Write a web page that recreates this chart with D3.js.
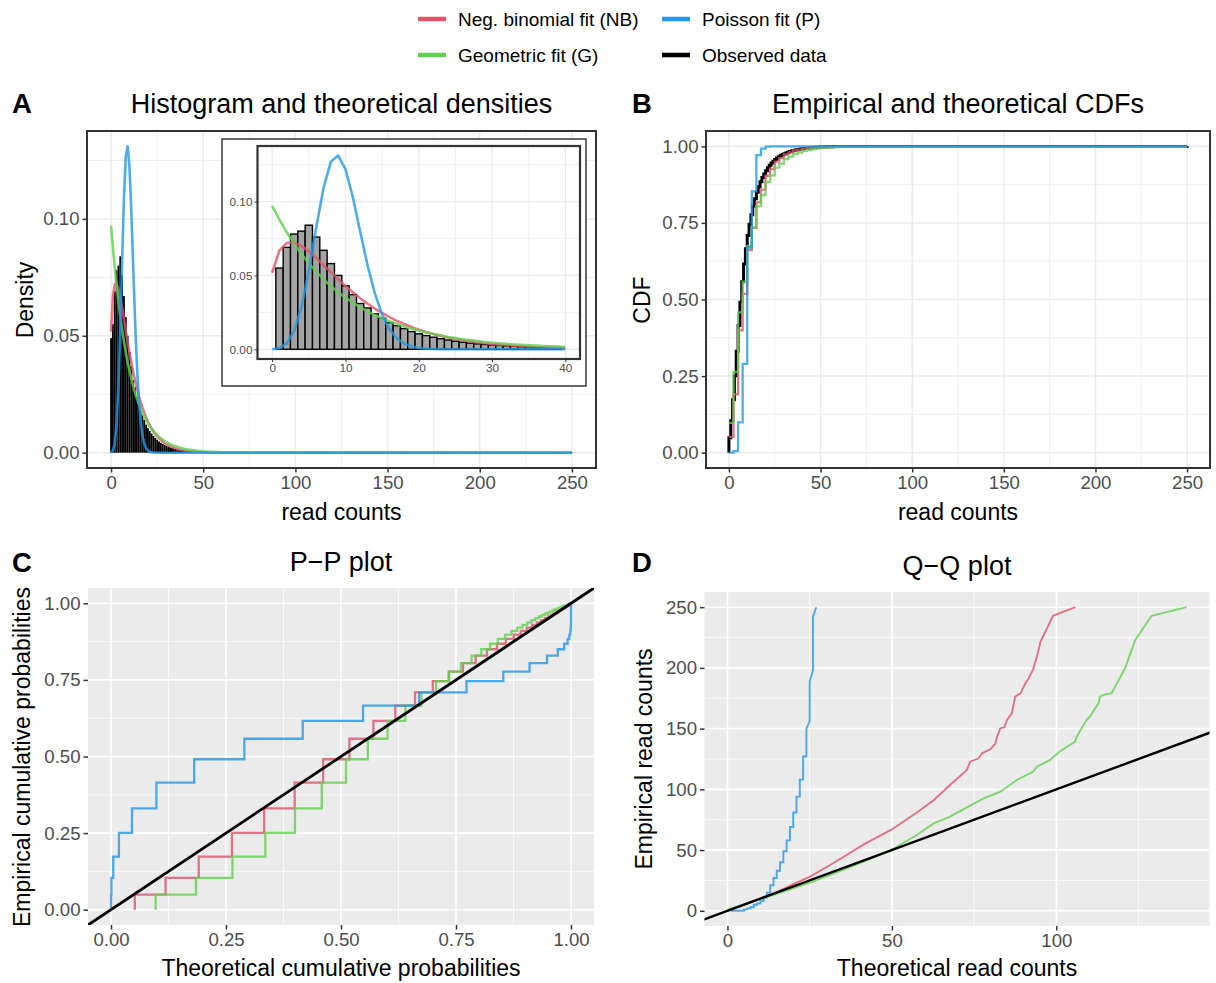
<!DOCTYPE html>
<html>
<head>
<meta charset="utf-8">
<script src="https://cdn.jsdelivr.net/npm/d3@7"></script>
<style>
  body { margin: 0; background: #ffffff; }
  svg { display: block; }
</style>
</head>
<body>
<script>
// ---------------------------------------------------------------
// Data: read counts (support), observed relative frequencies and
// the three fitted probability mass functions.
// ---------------------------------------------------------------
const readCounts = [0,1,2,3,4,5,6,7,8,9,10,11,12,13,14,15,16,17,18,19,20,21,22,23,24,25,26,27,28,29,30,31,32,33,34,35,36,37,38,39,40,41,42,43,44,45,46,47,48,49,50,51,52,53,54,55,56,57,58,59,60,250];

const obsDensity = [
  0.049,0.055,0.069,0.078,0.080,0.084,0.076,0.067,0.058,0.050,
  0.043,0.037,0.031,0.028,0.024,0.021,0.018,0.016,0.014,0.012,
  0.0105,0.0093,0.0082,0.0072,0.0063,0.0055,0.0048,0.0042,0.0037,0.0033,
  0.0029,0.0026,0.0023,0.0020,0.0018,0.0016,0.0014,0.0012,0.0011,0.0010,
  0.0009,0.0008,0.0007,0.0007,0.0006,0.0006,0.0005,0.0005,0.0004,0.0004,
  0.0004,0.0003,0.0003,0.0003,0.0003,0.0002,0.0002,0.0002,0.0002,0.0002,
  0.0002,0.0002];

const nbDensity = [
  0.0518,0.0669,0.0720,0.0723,0.0700,0.0663,0.0619,0.0571,0.0522,0.0475,
  0.0429,0.0386,0.0346,0.0310,0.0276,0.0246,0.0218,0.0193,0.0171,0.0151,
  0.0133,0.0117,0.0103,0.0091,0.0080,0.0070,0.0062,0.0054,0.0047,0.0041,
  0.0036,0.0032,0.0028,0.0024,0.0021,0.0019,0.0016,0.0014,0.0012,0.0011,
  0.0009,0.0008,0.0007,0.0006,0.0005,0.0005,0.0004,0.0004,0.0003,0.0003,
  0.0002,0.0002,0.0002,0.0002,0.0001,0.0001,0.0001,0.0001,0.0001,0.0001,
  0.0001,0];

const geomDensity = [
  0.0971,0.0877,0.0792,0.0715,0.0645,0.0583,0.0526,0.0475,0.0429,0.0387,
  0.0350,0.0316,0.0285,0.0257,0.0232,0.0210,0.0190,0.0171,0.0155,0.0140,
  0.0126,0.0114,0.0103,0.0093,0.0084,0.0076,0.0068,0.0062,0.0056,0.0050,
  0.0045,0.0041,0.0037,0.0033,0.0030,0.0027,0.0025,0.0022,0.0020,0.0018,
  0.0016,0.0015,0.0013,0.0012,0.0011,0.0010,0.0009,0.0008,0.0007,0.0007,
  0.0006,0.0005,0.0005,0.0004,0.0004,0.0004,0.0003,0.0003,0.0003,0.0002,
  0.0002,0];

const poisDensity = [
  0.0001,0.0008,0.0040,0.0123,0.0285,0.0530,0.0821,0.1091,0.1269,0.1311,
  0.1219,0.1031,0.0799,0.0571,0.0380,0.0235,0.0137,0.0075,0.0039,0.0019,
  0.0009,0.0004,0.0002,0.0001,0,0,0,0,0,0,
  0,0,0,0,0,0,0,0,0,0,
  0,0,0,0,0,0,0,0,0,0,
  0,0,0,0,0,0,0,0,0,0,
  0,0];

// Q-Q plot: [theoretical quantile, empirical read count]
const qqNB = [[0,0],[5,5],[10,10],[15,15.5],[20,22],[25,28],[32,39],[42,55.5],[50,67],
  [57.6,81],[62.7,91],[67.7,103.6],[72.8,116],[73.8,122.8],[76.4,125.6],[77.4,129.7],
  [79.9,133],[81.4,137.4],[82,143.4],[83,150.3],[84.2,151.1],[85,157.1],[86.5,162.7],
  [87.5,176.4],[89.1,179.1],[90.6,187.4],[91.6,191.5],[92.9,198.4],[94.1,209.3],
  [95.2,221.7],[97.2,232.7],[99,242.9],[105.8,250]];
const qqGeom = [[0,1],[8,8],[15,14],[25,23],[35,33.5],[45,44.5],[50,50.5],[57.6,62.4],
  [62.7,72],[67.7,77.5],[72.8,85.2],[77.9,92.6],[83,98.1],[88,107.7],[93,114.6],
  [94.1,118.7],[98.1,124.2],[100.6,130.2],[103.2,135.1],[105.7,139.2],[106.2,143.4],
  [107.7,150.3],[109.2,157.1],[110.2,159.8],[112.8,170.8],[113.3,176.4],[114.3,177.8],
  [116.8,179.1],[117.9,184.6],[120.9,199.7],[124,223.1],[129,242.9],[139.6,250]];
const qqPois = [[1,0],[5,0],[5,1],[6,1],[6,2],[7,2],[7,3],[8,3],[8,5],[9,5],[9,6],
  [10,6],[10,8],[11,8],[11,11],[12,11],[12,15],[13,15],[13,21],[14,21],[14,27],
  [15,27],[15,33],[16,33],[16,40],[17,40],[17,49],[18,49],[18,58],[19,58],[19,69],
  [20,69],[20,81],[21,81],[21,94],[22,94],[22,108],[23,108],[23,127],[24,127],
  [24,150],[25,156],[25,189],[26,198],[26,242],[27,250]];

const seriesLabels = ["Neg. binomial fit (NB)", "Geometric fit (G)", "Poisson fit (P)", "Observed data"];
const panelTitles = ["Histogram and theoretical densities", "Empirical and theoretical CDFs", "P\u2212P plot", "Q\u2212Q plot"];

// ---------------------------------------------------------------
const FONT = "'Liberation Sans', Arial, Helvetica, sans-serif";
const COL = { nb: "#DF536B", geom: "#61D04F", pois: "#2297E6", obs: "#000000" };
const LINE_ALPHA = 0.8;
const FS = { title: 27, axisTitle: 23, tick: 18.6, legend: 19, tag: 27.5 };

const svg = d3.select("body").append("svg")
  .attr("width", 1216).attr("height", 983)
  .style("font-family", FONT);

const cumNB = d3.cumsum(nbDensity);
const cumGeom = d3.cumsum(geomDensity);
const cumPois = d3.cumsum(poisDensity);
const cumObs = d3.cumsum(obsDensity);

let clipCount = 0;
function panel(cfg) {
  const x = d3.scaleLinear().domain(cfg.xDom).range([cfg.left, cfg.right]);
  const y = d3.scaleLinear().domain(cfg.yDom).range([cfg.bottom, cfg.top]);
  const bw = cfg.theme === "bw";
  const gridCol = bw ? "#EBEBEB" : "#FFFFFF";
  const g = svg.append("g");
  g.append("rect")
    .attr("x", cfg.left).attr("y", cfg.top)
    .attr("width", cfg.right - cfg.left).attr("height", cfg.bottom - cfg.top)
    .attr("fill", bw ? "#FFFFFF" : "#EBEBEB");
  const grid = g.append("g").attr("stroke", gridCol);
  const minorW = cfg.minorW || 0.8, majorW = cfg.majorW || 1.5;
  cfg.xMinor.forEach(v => grid.append("line").attr("x1", x(v)).attr("x2", x(v))
    .attr("y1", cfg.top).attr("y2", cfg.bottom).attr("stroke-width", minorW));
  cfg.yMinor.forEach(v => grid.append("line").attr("y1", y(v)).attr("y2", y(v))
    .attr("x1", cfg.left).attr("x2", cfg.right).attr("stroke-width", minorW));
  cfg.xTicks.forEach(v => grid.append("line").attr("x1", x(v)).attr("x2", x(v))
    .attr("y1", cfg.top).attr("y2", cfg.bottom).attr("stroke-width", majorW));
  cfg.yTicks.forEach(v => grid.append("line").attr("y1", y(v)).attr("y2", y(v))
    .attr("x1", cfg.left).attr("x2", cfg.right).attr("stroke-width", majorW));

  const id = "clip" + (clipCount++);
  svg.append("clipPath").attr("id", id).append("rect")
    .attr("x", cfg.left).attr("y", cfg.top)
    .attr("width", cfg.right - cfg.left).attr("height", cfg.bottom - cfg.top);
  const plot = g.append("g").attr("clip-path", `url(#${id})`);

  if (bw) {
    g.append("rect")
      .attr("x", cfg.left).attr("y", cfg.top)
      .attr("width", cfg.right - cfg.left).attr("height", cfg.bottom - cfg.top)
      .attr("fill", "none").attr("stroke", "#333333").attr("stroke-width", cfg.borderW || 2);
  }

  const tick = cfg.tick || 4.5, fs = cfg.fs || FS.tick;
  const ax = g.append("g").attr("transform", `translate(0,${cfg.bottom})`)
    .call(d3.axisBottom(x).tickValues(cfg.xTicks).tickFormat(cfg.xFmt)
      .tickSize(tick).tickSizeOuter(0).tickPadding(cfg.pad || 3));
  const ay = g.append("g").attr("transform", `translate(${cfg.left},0)`)
    .call(d3.axisLeft(y).tickValues(cfg.yTicks).tickFormat(cfg.yFmt)
      .tickSize(tick).tickSizeOuter(0).tickPadding(cfg.pad || 3));
  [ax, ay].forEach(a => {
    a.attr("font-family", FONT).attr("font-size", fs);
    a.select(".domain").remove();
    a.selectAll(".tick line").attr("stroke", "#333333").attr("stroke-width", cfg.tickW || 1.5);
    a.selectAll(".tick text").attr("fill", "#4D4D4D");
  });
  return { x, y, plot, g };
}

function addTitle(text, cx, baseline) {
  svg.append("text").attr("x", cx).attr("y", baseline)
    .attr("text-anchor", "middle").attr("font-size", FS.title).attr("fill", "#000")
    .text(text);
}
function addXLabel(text, cx, baseline) {
  svg.append("text").attr("x", cx).attr("y", baseline)
    .attr("text-anchor", "middle").attr("font-size", FS.axisTitle).attr("fill", "#000")
    .text(text);
}
function addYLabel(text, xBase, cy) {
  svg.append("text").attr("transform", `translate(${xBase},${cy}) rotate(-90)`)
    .attr("text-anchor", "middle").attr("font-size", FS.axisTitle).attr("fill", "#000")
    .text(text);
}
function addTag(text, x, baseline) {
  svg.append("text").attr("x", x).attr("y", baseline)
    .attr("font-size", FS.tag).attr("font-weight", "bold").attr("fill", "#000")
    .text(text);
}

const f2 = d3.format(".2f");
const f0 = d3.format("d");

// ---------------------------------------------------------------
// Legend
// ---------------------------------------------------------------
const legendItems = [
  { label: seriesLabels[0], col: COL.nb,   x: 418, y: 19 },
  { label: seriesLabels[1], col: COL.geom, x: 418, y: 55 },
  { label: seriesLabels[2], col: COL.pois, x: 662, y: 19 },
  { label: seriesLabels[3], col: COL.obs,  x: 662, y: 55 }
];
const lg = svg.append("g");
legendItems.forEach(d => {
  lg.append("line").attr("x1", d.x).attr("x2", d.x + 28).attr("y1", d.y).attr("y2", d.y)
    .attr("stroke", d.col).attr("stroke-width", 4.5);
  lg.append("text").attr("x", d.x + 40).attr("y", d.y + 7)
    .attr("font-size", FS.legend).attr("fill", "#000").text(d.label);
});

// ---------------------------------------------------------------
// A: histogram and theoretical densities
// ---------------------------------------------------------------
const pA = panel({
  left: 87, right: 596, top: 131, bottom: 468, theme: "bw",
  xDom: [-13.05, 263.05], yDom: [-0.00655, 0.1376],
  xTicks: [0, 50, 100, 150, 200, 250], yTicks: [0, 0.05, 0.10],
  xMinor: [25, 75, 125, 175, 225], yMinor: [0.025, 0.075, 0.125],
  xFmt: f0, yFmt: f2
});
const bins = readCounts.map((k, i) => ({ k, d: obsDensity[i] })).filter(b => b.d > 0);
pA.plot.selectAll("rect.bar").data(bins).join("rect")
  .attr("x", b => pA.x(b.k - 0.5)).attr("width", b => pA.x(b.k + 0.5) - pA.x(b.k - 0.5))
  .attr("y", b => pA.y(b.d)).attr("height", b => pA.y(0) - pA.y(b.d))
  .attr("fill", "#000");

function densityLine(sc, dens, maxK) {
  const pts = readCounts.map((k, i) => [k, dens[i]]).filter(p => p[0] <= maxK);
  return d3.line().x(p => sc.x(p[0])).y(p => sc.y(p[1]))(pts);
}
[[nbDensity, COL.nb], [geomDensity, COL.geom], [poisDensity, COL.pois]].forEach(([dens, col]) => {
  pA.plot.append("path").attr("d", densityLine(pA, dens, 250))
    .attr("fill", "none").attr("stroke", col).attr("stroke-width", 2.6)
    .attr("stroke-opacity", LINE_ALPHA).attr("stroke-linejoin", "round");
});

// Inset zoom on read counts 0-40
svg.append("rect").attr("x", 222).attr("y", 139).attr("width", 364).attr("height", 247)
  .attr("fill", "#fff").attr("stroke", "#1a1a1a").attr("stroke-width", 1.3);
const pI = panel({
  left: 257.5, right: 580, top: 146, bottom: 359, theme: "bw",
  xDom: [-2, 42], yDom: [-0.00655, 0.1376],
  xTicks: [0, 10, 20, 30, 40], yTicks: [0, 0.05, 0.10],
  xMinor: [5, 15, 25, 35], yMinor: [0.025, 0.075, 0.125],
  xFmt: f0, yFmt: f2, fs: 11.8, tick: 3, tickW: 1, pad: 2, majorW: 1.3, minorW: 0.7, borderW: 2.2
});
const insetBins = bins.filter(b => b.k - 0.5 >= 0 && b.k + 0.5 <= 40);
pI.plot.selectAll("rect.bar").data(insetBins).join("rect")
  .attr("x", b => pI.x(b.k - 0.5)).attr("width", b => pI.x(b.k + 0.5) - pI.x(b.k - 0.5))
  .attr("y", b => pI.y(b.d)).attr("height", b => pI.y(0) - pI.y(b.d))
  .attr("fill", "#A3A3A3").attr("stroke", "#000").attr("stroke-width", 1.4);
[[nbDensity, COL.nb], [geomDensity, COL.geom], [poisDensity, COL.pois]].forEach(([dens, col]) => {
  pI.plot.append("path").attr("d", densityLine(pI, dens, 40))
    .attr("fill", "none").attr("stroke", col).attr("stroke-width", 2.6)
    .attr("stroke-opacity", LINE_ALPHA).attr("stroke-linejoin", "round");
});

// ---------------------------------------------------------------
// B: empirical and theoretical CDFs
// ---------------------------------------------------------------
const pB = panel({
  left: 706, right: 1210, top: 131, bottom: 468, theme: "bw",
  xDom: [-12.5, 262.5], yDom: [-0.05, 1.05],
  xTicks: [0, 50, 100, 150, 200, 250], yTicks: [0, 0.25, 0.5, 0.75, 1],
  xMinor: [25, 75, 125, 175, 225], yMinor: [0.125, 0.375, 0.625, 0.875],
  xFmt: f0, yFmt: f2
});
// theoretical CDFs evaluated on an evaluation grid of 101 points over the data range
const cdfGrid = d3.range(101).map(i => i * 250 / 100);
function cdfAt(cum, v) {
  const i = d3.bisectRight(readCounts, v) - 1;
  return i < 0 ? 0 : cum[i];
}
const ecdfPts = [[0, 0]].concat(readCounts.map((k, i) => [k, cumObs[i]]));
pB.plot.append("path")
  .attr("d", d3.line().curve(d3.curveStepAfter).x(p => pB.x(p[0])).y(p => pB.y(p[1]))(ecdfPts))
  .attr("fill", "none").attr("stroke", COL.obs).attr("stroke-width", 3);
[[cumNB, COL.nb], [cumGeom, COL.geom], [cumPois, COL.pois]].forEach(([cum, col]) => {
  const pts = cdfGrid.map(v => [v, cdfAt(cum, v)]);
  pB.plot.append("path")
    .attr("d", d3.line().curve(d3.curveStepAfter).x(p => pB.x(p[0])).y(p => pB.y(p[1]))(pts))
    .attr("fill", "none").attr("stroke", col).attr("stroke-width", 2.3)
    .attr("stroke-opacity", LINE_ALPHA);
});

// ---------------------------------------------------------------
// C: P-P plot
// ---------------------------------------------------------------
const pC = panel({
  left: 88, right: 594, top: 588, bottom: 925, theme: "gray",
  xDom: [-0.05, 1.05], yDom: [-0.05, 1.05],
  xTicks: [0, 0.25, 0.5, 0.75, 1], yTicks: [0, 0.25, 0.5, 0.75, 1],
  xMinor: [0.125, 0.375, 0.625, 0.875], yMinor: [0.125, 0.375, 0.625, 0.875],
  xFmt: f2, yFmt: f2, majorW: 1.6, minorW: 0.8
});
function ppPoints(cumTheo) {
  const pts = [[cumTheo[0], 0]];
  for (let i = 0; i < readCounts.length; i++) {
    if (obsDensity[i] <= 0) continue;
    const prev = pts[pts.length - 1];
    pts.push([cumTheo[i], prev[1]]);
    pts.push([cumTheo[i], cumObs[i]]);
  }
  pts.push([1, 1]);
  return pts;
}
[[cumNB, COL.nb], [cumGeom, COL.geom], [cumPois, COL.pois]].forEach(([cum, col]) => {
  pC.plot.append("path")
    .attr("d", d3.line().x(p => pC.x(p[0])).y(p => pC.y(p[1]))(ppPoints(cum)))
    .attr("fill", "none").attr("stroke", col).attr("stroke-width", 2.3)
    .attr("stroke-opacity", LINE_ALPHA);
});
pC.plot.append("line")
  .attr("x1", pC.x(-0.05)).attr("y1", pC.y(-0.05)).attr("x2", pC.x(1.05)).attr("y2", pC.y(1.05))
  .attr("stroke", "#000").attr("stroke-width", 2.8);

// ---------------------------------------------------------------
// D: Q-Q plot
// ---------------------------------------------------------------
const pD = panel({
  left: 704.5, right: 1209.5, top: 592, bottom: 926, theme: "gray",
  xDom: [-6.98, 146.58], yDom: [-12.5, 262.5],
  xTicks: [0, 50, 100], yTicks: [0, 50, 100, 150, 200, 250],
  xMinor: [25, 75, 125], yMinor: [25, 75, 125, 175, 225],
  xFmt: f0, yFmt: f0, majorW: 1.6, minorW: 0.8
});
[[qqNB, COL.nb], [qqGeom, COL.geom], [qqPois, COL.pois]].forEach(([pts, col]) => {
  pD.plot.append("path")
    .attr("d", d3.line().x(p => pD.x(p[0])).y(p => pD.y(p[1]))(pts))
    .attr("fill", "none").attr("stroke", col).attr("stroke-width", 1.9)
    .attr("stroke-opacity", LINE_ALPHA);
});
pD.plot.append("line")
  .attr("x1", pD.x(-10)).attr("y1", pD.y(-10)).attr("x2", pD.x(270)).attr("y2", pD.y(270))
  .attr("stroke", "#000").attr("stroke-width", 2.4);

// ---------------------------------------------------------------
// Titles, axis labels and panel tags
// ---------------------------------------------------------------
addTitle(panelTitles[0], (87 + 596) / 2, 113);
addTitle(panelTitles[1], (706 + 1210) / 2, 113);
addTitle(panelTitles[2], (88 + 594) / 2, 571);
addTitle(panelTitles[3], (704.5 + 1209.5) / 2, 575);

addXLabel("read counts", (87 + 596) / 2, 520);
addXLabel("read counts", (706 + 1210) / 2, 520);
addXLabel("Theoretical cumulative probabilities", (88 + 594) / 2, 976);
addXLabel("Theoretical read counts", (704.5 + 1209.5) / 2, 976);

addYLabel("Density", 33, 300);
addYLabel("CDF", 650, 300);
addYLabel("Empirical cumulative probabilities", 30, 757);
addYLabel("Empirical read counts", 652, 759);

addTag("A", 12, 113);
addTag("B", 632, 113);
addTag("C", 12, 572);
addTag("D", 632, 572);
</script>
</body>
</html>
